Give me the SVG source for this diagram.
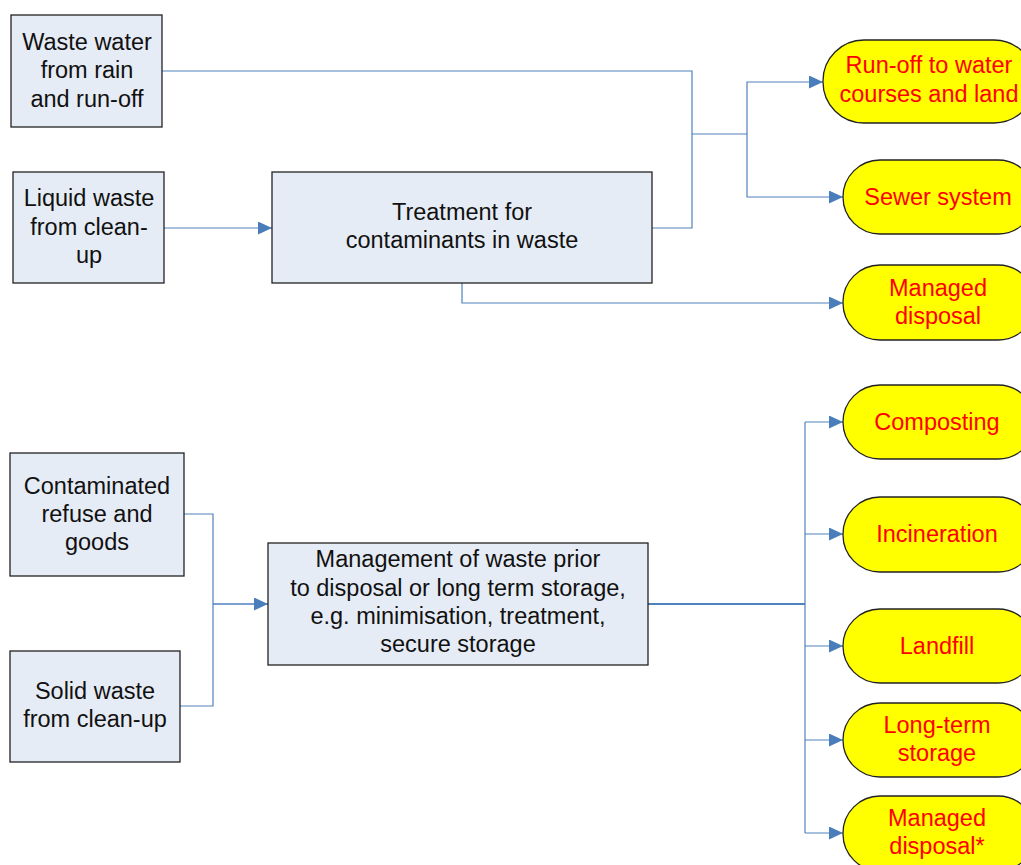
<svg xmlns="http://www.w3.org/2000/svg" width="1021" height="865" viewBox="0 0 1021 865">
<style>
.box{fill:#E6ECF6;stroke:#222;stroke-width:1.3}
.oval{fill:#FFFF00;stroke:#222;stroke-width:1.3}
.t{font-family:"Liberation Sans",Arial,sans-serif;font-size:23.5px;fill:#111;text-anchor:middle}
.r{font-family:"Liberation Sans",Arial,sans-serif;font-size:23.5px;fill:#FF0000;text-anchor:middle}
.c{fill:none;stroke:#4F81BD;stroke-width:1.2}
</style>
<defs>
<marker id="ah" markerUnits="userSpaceOnUse" markerWidth="15" markerHeight="13" refX="14" refY="6.5" orient="auto">
<path d="M0,0 L14,6.5 L0,13 Z" fill="#4A7EBB"/>
</marker>
</defs>
<rect width="1021" height="865" fill="#fff"/>
<g id="connectors">
<path class="c" d="M162,71 H692 V228 H652"/>
<path class="c" d="M692,134 H747"/>
<path class="c" d="M747,134 V82 H823" marker-end="url(#ah)"/>
<path class="c" d="M747,134 V197 H843" marker-end="url(#ah)"/>
<path class="c" d="M164,228 H272" marker-end="url(#ah)"/>
<path class="c" d="M462,283 V303 H843" marker-end="url(#ah)"/>
<path class="c" d="M184,514 H213 V706 H180"/>
<path class="c" d="M213,604 H268" marker-end="url(#ah)" style="stroke-width:1.5"/>
<path class="c" d="M648,604 H805" style="stroke-width:1.8"/>
<path class="c" d="M805,422 V833"/>
<path class="c" d="M805,422 H843" marker-end="url(#ah)"/>
<path class="c" d="M805,534 H843" marker-end="url(#ah)"/>
<path class="c" d="M805,646 H843" marker-end="url(#ah)"/>
<path class="c" d="M805,740 H843" marker-end="url(#ah)"/>
<path class="c" d="M805,833 H843" marker-end="url(#ah)"/>
</g>
<g id="waste-water">
<rect class="box" x="11" y="15" width="151" height="112"/>
<text class="t" x="87" y="50">Waste water</text>
<text class="t" x="87" y="78">from rain</text>
<text class="t" x="87" y="107">and run-off</text>
</g>
<g id="liquid-waste">
<rect class="box" x="13" y="172" width="151" height="111"/>
<text class="t" x="89" y="206">Liquid waste</text>
<text class="t" x="89" y="235">from clean-</text>
<text class="t" x="89" y="263">up</text>
</g>
<g id="treatment">
<rect class="box" x="272" y="172" width="380" height="111"/>
<text class="t" x="462" y="220">Treatment for</text>
<text class="t" x="462" y="248">contaminants in waste</text>
</g>
<g id="runoff">
<rect class="oval" x="823" y="40" width="212" height="83" rx="41"/>
<text class="r" x="929" y="73">Run-off to water</text>
<text class="r" x="929" y="102">courses and land</text>
</g>
<g id="sewer">
<rect class="oval" x="843" y="160" width="192" height="74" rx="37"/>
<text class="r" x="938" y="205">Sewer system</text>
</g>
<g id="managed-disposal">
<rect class="oval" x="843" y="265" width="192" height="75" rx="37"/>
<text class="r" x="938" y="296">Managed</text>
<text class="r" x="938" y="324">disposal</text>
</g>
<g id="contaminated">
<rect class="box" x="10" y="453" width="174" height="123"/>
<text class="t" x="97" y="494">Contaminated</text>
<text class="t" x="97" y="522">refuse and</text>
<text class="t" x="97" y="550">goods</text>
</g>
<g id="solid-waste">
<rect class="box" x="10" y="651" width="170" height="111"/>
<text class="t" x="95" y="699">Solid waste</text>
<text class="t" x="95" y="727">from clean-up</text>
</g>
<g id="management">
<rect class="box" x="268" y="543" width="380" height="122"/>
<text class="t" x="458" y="567">Management of waste prior</text>
<text class="t" x="458" y="596">to disposal or long term storage,</text>
<text class="t" x="458" y="624">e.g. minimisation, treatment,</text>
<text class="t" x="458" y="652">secure storage</text>
</g>
<g id="composting">
<rect class="oval" x="843" y="385" width="192" height="74" rx="37"/>
<text class="r" x="937" y="430">Composting</text>
</g>
<g id="incineration">
<rect class="oval" x="843" y="497" width="192" height="75" rx="37"/>
<text class="r" x="937" y="542">Incineration</text>
</g>
<g id="landfill">
<rect class="oval" x="843" y="609" width="192" height="74" rx="37"/>
<text class="r" x="937" y="654">Landfill</text>
</g>
<g id="long-term">
<rect class="oval" x="843" y="703" width="192" height="74" rx="37"/>
<text class="r" x="937" y="733">Long-term</text>
<text class="r" x="937" y="761">storage</text>
</g>
<g id="managed-disposal-star">
<rect class="oval" x="843" y="796" width="192" height="75" rx="37"/>
<text class="r" x="937" y="826">Managed</text>
<text class="r" x="937" y="854">disposal*</text>
</g>
</svg>
